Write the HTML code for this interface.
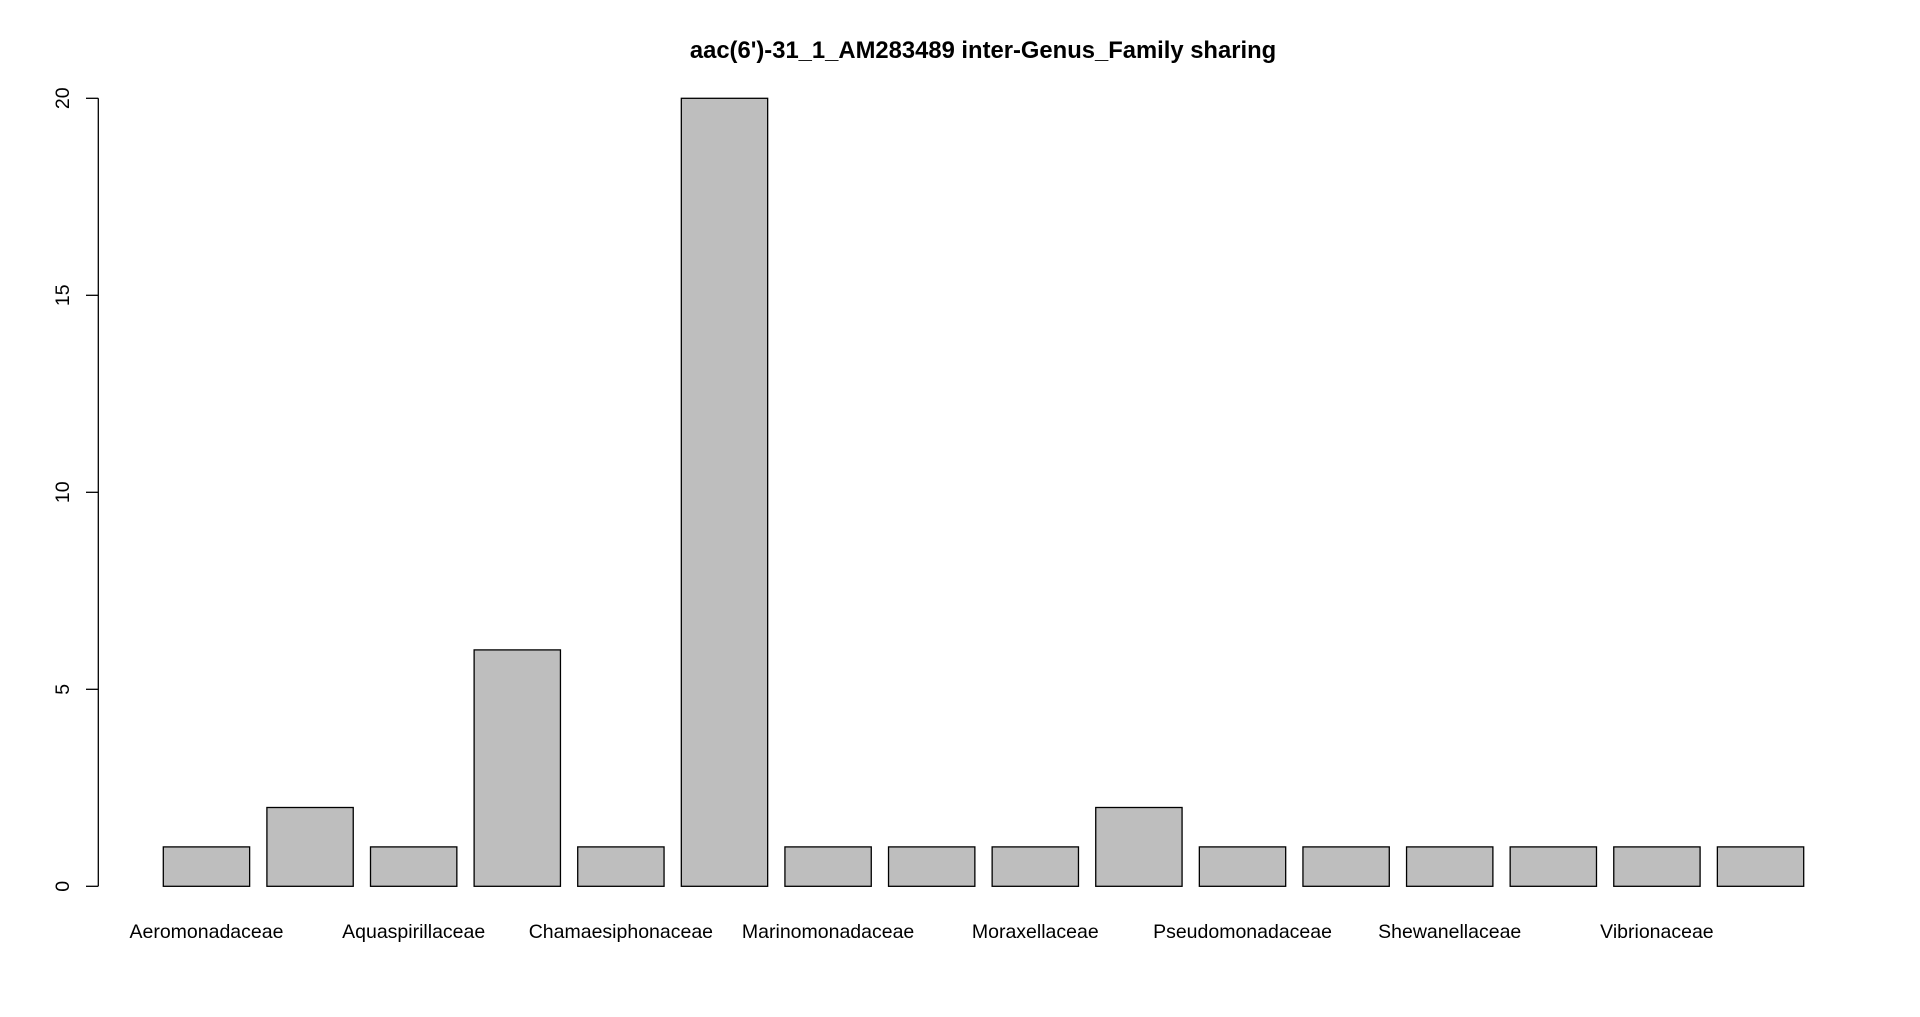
<!DOCTYPE html>
<html><head><meta charset="utf-8"><style>
html,body{margin:0;padding:0;background:#fff;}
svg{display:block;font-family:"Liberation Sans",Arial,sans-serif;}
</style></head><body>
<svg id="chart" width="1920" height="1017" viewBox="0 0 1920 1017">
<text x="983" y="58" text-anchor="middle" font-size="23.8" font-weight="bold">aac(6')-31_1_AM283489 inter-Genus_Family sharing</text>
<g id="yaxis"></g>
<g id="bars"></g>
<g id="xlabels"></g>
</svg>
<script>
const categories = ["Aeromonadaceae","Alteromonadaceae","Aquaspirillaceae","Burkholderiaceae","Chamaesiphonaceae","Enterobacteriaceae","Marinomonadaceae","Moraxellaceae2","Moraxellaceae","Pseudoalteromonadaceae","Pseudomonadaceae","Rhodocyclaceae","Shewanellaceae","Vibrionaceae0","Vibrionaceae","Xanthomonadaceae"];
const values = [1,2,1,6,1,20,1,1,1,2,1,1,1,1,1,1];
const yTicks = [0,5,10,15,20];
const shownLabels = [true,false,true,false,true,false,true,false,true,false,true,false,true,false,true,false];

const NS="http://www.w3.org/2000/svg";
const y0=886.3, y20=98.3, yMax=20;
const firstL=163.3, lastR=1803.7;
const n=values.length;
const unit=(lastR-firstL)/(1.2*n-0.2);
function sx(u){return firstL+(u-0.2)*unit;}
function sy(v){return y0-(v/yMax)*(y0-y20);}
function mk(tag,attrs){const e=document.createElementNS(NS,tag);for(const k in attrs)e.setAttribute(k,attrs[k]);return e;}

const ya=document.getElementById('yaxis');
const axl=mk('line',{x1:98.3,x2:98.3,y1:sy(yTicks[0]),y2:sy(yTicks[yTicks.length-1]),stroke:'#000','stroke-width':1.3});


ya.appendChild(axl);
yTicks.forEach(t=>{
  const tk=mk('line',{x1:86,x2:98.3,y1:sy(t),y2:sy(t),stroke:'#000','stroke-width':1.3});
  
  
  ya.appendChild(tk);
  const tx=mk('text',{x:0,y:0,'font-size':19.5,'text-anchor':'middle',transform:`translate(69,${sy(t)}) rotate(-90)`});
  tx.textContent=t;
  
  
  ya.appendChild(tx);
});

const bg=document.getElementById('bars'), lg=document.getElementById('xlabels');
values.forEach((v,i)=>{
  const l=0.2+i*1.2, r=l+1;
  const rect=mk('rect',{x:sx(l),y:sy(v),width:sx(r)-sx(l),height:sy(0)-sy(v),fill:'#bebebe',stroke:'#000','stroke-width':1.3});
  
  
  bg.appendChild(rect);
  if(shownLabels[i]){
    const t=mk('text',{x:(sx(l)+sx(r))/2,y:938,'font-size':19.5,'text-anchor':'middle'});
    t.textContent=categories[i];
    
    
    lg.appendChild(t);
  }
});
</script>
</body></html>
